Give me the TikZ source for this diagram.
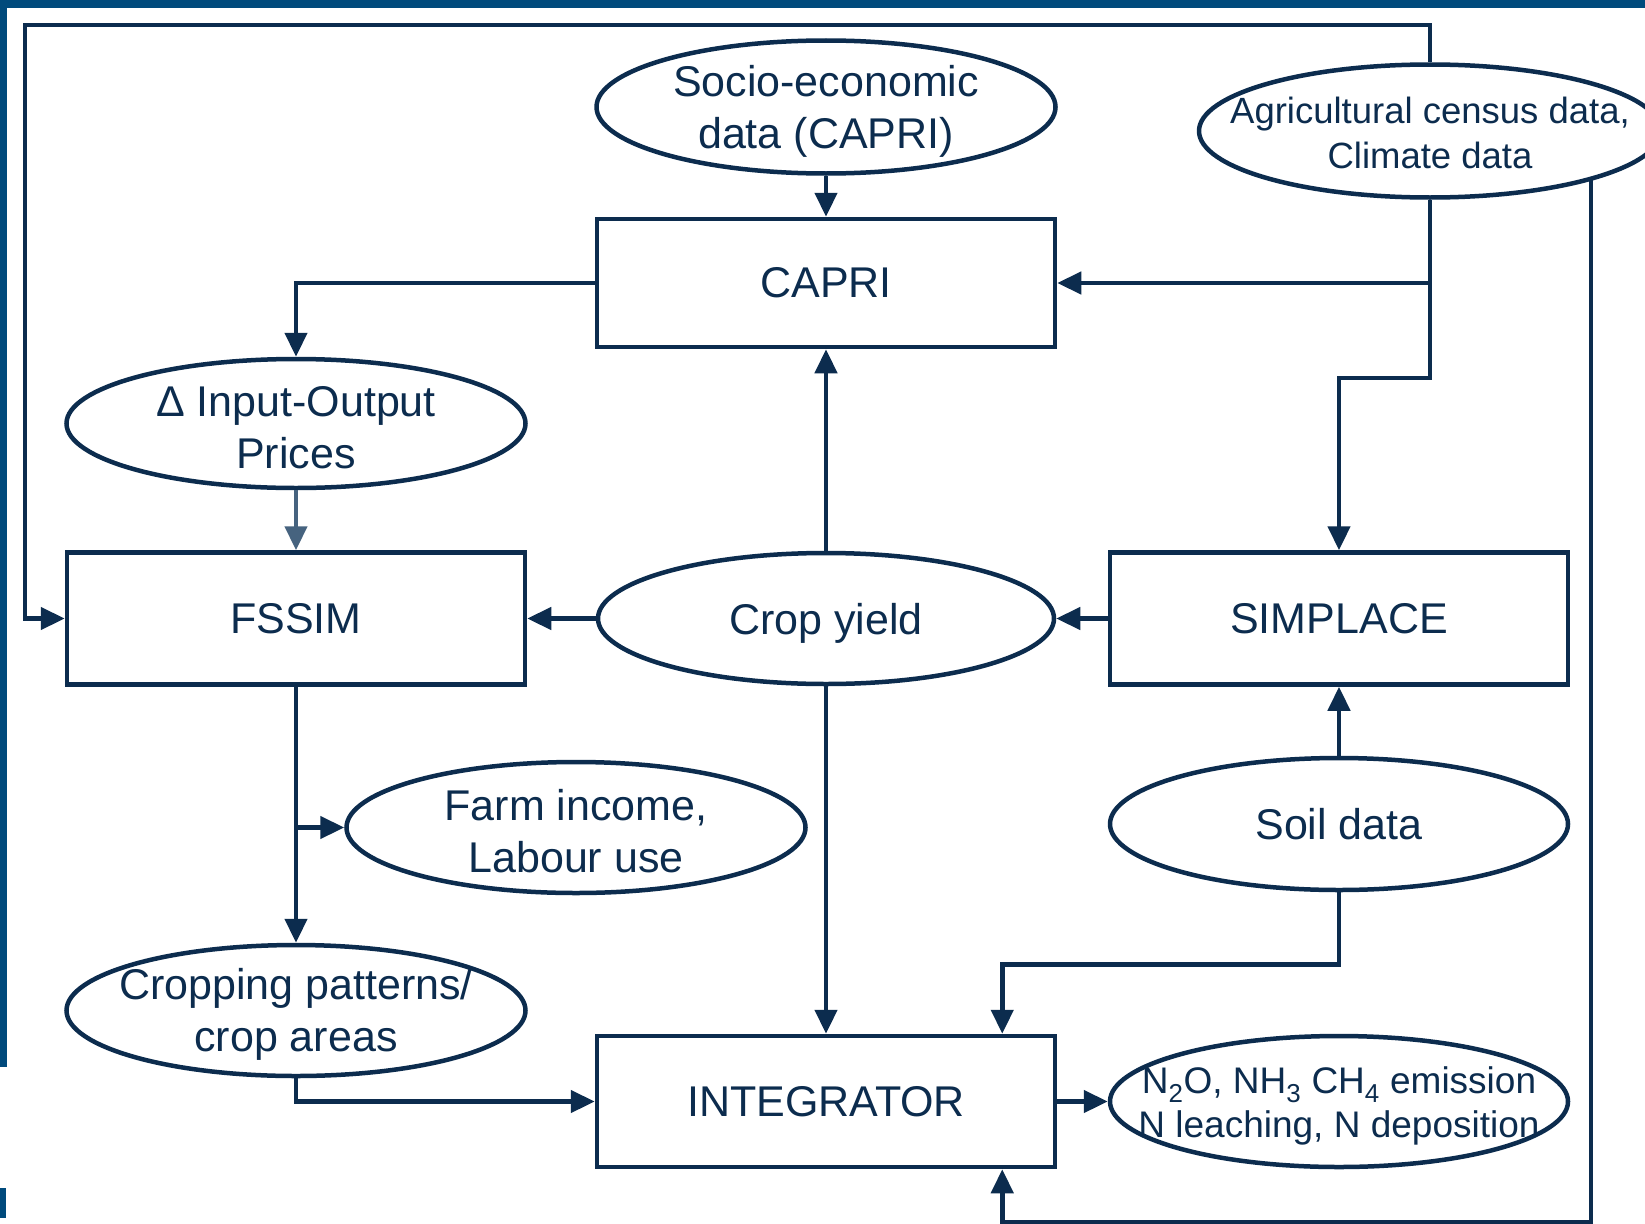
\documentclass[tikz,border=0pt]{standalone}
\usepackage{fontspec}
\setmainfont{Liberation Sans}
\usetikzlibrary{shapes.geometric,arrows.meta,calc}
\definecolor{ln}{HTML}{0C2C4E}
\definecolor{fr}{HTML}{004A7C}
\definecolor{lt}{HTML}{46637F}
\begin{document}
\begin{tikzpicture}[x=1pt,y=-1pt,
  box/.style={draw=ln, line width=4.5pt, rectangle, minimum width=458pt, minimum height=130pt, inner sep=0pt, text=ln, font=\fontsize{43}{52}\selectfont},
  oval/.style={draw=ln, line width=4.5pt, ellipse, minimum width=459pt, minimum height=131pt, inner sep=0pt, fill=white},
  lbl/.style={text=ln, font=\fontsize{43}{52}\selectfont, align=center, inner sep=0pt},
  ml/.style={yshift=-4pt},
  slbl/.style={text=ln, font=\fontsize{36.5}{45}\selectfont, align=center, inner sep=0pt},
  conn/.style={draw=ln, line width=4.5pt},
  arr/.style={conn, -{Triangle[length=24pt,width=22pt]}},
  larr/.style={draw=lt, line width=4.5pt, -{Triangle[length=24pt,width=22pt]}}
]
\useasboundingbox (0,0) rectangle (1645,1223);
\clip (0,0) rectangle (1645,1223);
\fill[white] (0,0) rectangle (1645,1223);
% frame pieces
\fill[fr] (0,0) rectangle (1645,8);
\fill[fr] (0,0) rectangle (7,1067);
\fill[fr] (0,1188) rectangle (6,1218);

% nodes
\node[oval, minimum height=133pt] (socio) at (826,107) {};
\node[lbl, ml] (sociot) at (socio) {Socio-economic\\data (CAPRI)};
\node[oval, minimum width=462pt, minimum height=133pt] (agri) at (1430,131) {};
\node[slbl, yshift=-2pt] (agrit) at (agri) {Agricultural census data,\\Climate data};
\node[box, minimum height=128pt] (capri) at (826,283) {CAPRI};
\node[oval, minimum height=129pt] (delta) at (296,423.5) {};
\node[lbl, ml] (deltat) at (delta) {Δ Input-Output\\Prices};
\node[box, minimum height=132pt] (fssim) at (296,618.5) {FSSIM};
\node[oval, minimum width=456pt] (crop) at (826,618.5) {};
\node[lbl, text depth=0pt] (cropt) at (crop) {Crop yield};
\node[box, minimum height=132pt] (simplace) at (1339,618.5) {SIMPLACE};
\node[oval] (farm) at (576,827.5) {};
\node[lbl, ml] (farmt) at (farm) {Farm income,\\Labour use};
\node[oval, minimum width=458pt, minimum height=132pt] (soil) at (1339,824) {};
\node[lbl] (soilt) at (soil) {Soil data};
\node[oval] (cropping) at (296,1010.5) {};
\node[lbl, ml] (croppingt) at (cropping) {Cropping patterns/\\crop areas};
\node[box, minimum height=131pt] (integ) at (826,1101.5) {INTEGRATOR};
\node[oval, minimum width=458pt] (emis) at (1339,1101.5) {};
\node[slbl, ml, font=\fontsize{37}{44}\selectfont] (emist) at (emis) {N\textsubscript{2}O, NH\textsubscript{3} CH\textsubscript{4} emission\\N leaching, N deposition};

% helper coordinates
\coordinate (tl) at (25,25);
\coordinate (rstart) at (1591,179);
\coordinate (ib) at ($(integ.south east)+(-55,53)$);

% connectors
\draw[arr] (socio) -- (capri);
\draw[arr] (capri.west) -| (delta.north);
\draw[larr] (delta) -- (fssim);
\draw[arr] (agri.north) |- (tl) |- (fssim.west);
\draw[arr] (agri.south) -- ++(0,178) -| (simplace.north);
\draw[arr] (agri.south) |- (capri.east);
\draw[arr] (crop.north) -- (capri.south);
\draw[arr] (crop.west) -- (fssim.east);
\draw[arr] (simplace.west) -- (crop.east);
\draw[arr] (crop.south) -- (integ.north);
\draw[arr] (fssim.south) -- (cropping.north);
\draw[arr] (fssim.south |- farm.west) -- (farm.west);
\draw[arr] (cropping.south) |- (integ.west);
\draw[arr] (soil.north) -- (simplace.south);
\draw[arr] (soil.south) -- ++(0,72) -| ($(integ.north east)+(-55,0)$);
\draw[arr] (integ.east) -- (emis.west);
\draw[arr] (rstart) |- (ib) -- ($(integ.south east)+(-55,0)$);
\end{tikzpicture}
\end{document}
